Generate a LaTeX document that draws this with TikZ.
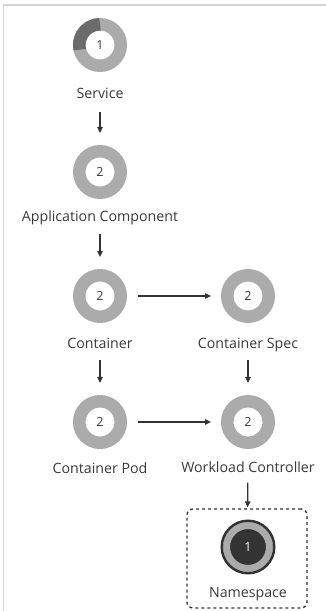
\documentclass[tikz,border=0pt]{standalone}
\usepackage{fontspec}
\setmainfont{Open Sans}
\usetikzlibrary{arrows.meta}
\definecolor{ringgray}{HTML}{ABABAB}
\definecolor{seggray}{HTML}{6B6B6B}
\definecolor{nsdark}{HTML}{333333}
\definecolor{txtgray}{HTML}{3A3A3A}
\definecolor{framegray}{HTML}{D4D4D4}
\tikzset{
  donut/.style={circle, draw=ringgray, line width=12.5pt, minimum size=41.5pt,
    inner sep=0pt, outer sep=6.25pt, text=txtgray, font=\fontsize{12.5}{12.5}\selectfont},
  lbl/.style={inner sep=0pt, text height=10pt, text depth=3pt, text=txtgray,
    font=\fontsize{14.2}{15}\selectfont},
  flow/.style={draw=nsdark, line width=1.3pt, -{Triangle[length=6pt,width=5.5pt]}},
}
\begin{document}
\begin{tikzpicture}[x=1pt,y=1pt]
    \useasboundingbox (0,0) rectangle (326,611);
    % 边框
    \draw[framegray, line width=1.5pt] (3.5,0) -- (3.5,606) -- (326,606);

    % 左列
    \node[donut] (svc) at (100,566) {1};
    \draw[seggray, line width=12.5pt] ([shift={(90:20.75pt)}]svc.center)
        arc[start angle=90, end angle=193, radius=20.75pt];
    \node[lbl] (svclbl) at (100,516) {Service};

    \node[donut] (app) at (100,439) {2};
    \node[lbl] (applbl) at (100,393) {Application Component};

    \node[donut] (cont) at (100,315) {2};
    \node[lbl] (contlbl) at (100,266) {Container};

    \node[donut] (pod) at (100,189) {2};
    \node[lbl] (podlbl) at (100,141) {Container Pod};

    % 右列
    \node[donut] (spec) at (248,315) {2};
    \node[lbl] (speclbl) at (248,266) {Container Spec};

    \node[donut] (wl) at (248,189) {2};
    \node[lbl] (wllbl) at (248,142) {Workload Controller};

    % 命名空间
    \node[draw=nsdark, dashed, line width=1.3pt, rounded corners=6pt,
        minimum width=120pt, minimum height=99pt] (nsbox) at (247,52.5) {};
    \node[circle, fill=nsdark, draw=ringgray, line width=7pt, minimum size=43pt,
        inner sep=0pt, text=white, font=\fontsize{12.5}{12.5}\selectfont] (ns) at (248,64) {1};
    \draw[nsdark, line width=2.5pt] (ns.center) circle[radius=26.25pt];
    \node[lbl] (nslbl) at (248,17) {Namespace};

    % 箭头
    \draw[flow, shorten <=10pt, shorten >=12pt] (svclbl) -- (app);
    \draw[flow, shorten <=9pt, shorten >=12pt] (applbl) -- (cont);
    \draw[flow, shorten <=8pt, shorten >=12pt] (contlbl) -- (pod);
    \draw[flow, shorten <=8pt, shorten >=12pt] (speclbl) -- (wl);
    \draw[flow, shorten <=11pt, shorten >=10pt] (cont) -- (spec);
    \draw[flow, shorten <=11pt, shorten >=10pt] (pod) -- (wl);
    \draw[flow, shorten <=7pt, shorten >=1pt] (wllbl) -- (nsbox);
\end{tikzpicture}
\end{document}
